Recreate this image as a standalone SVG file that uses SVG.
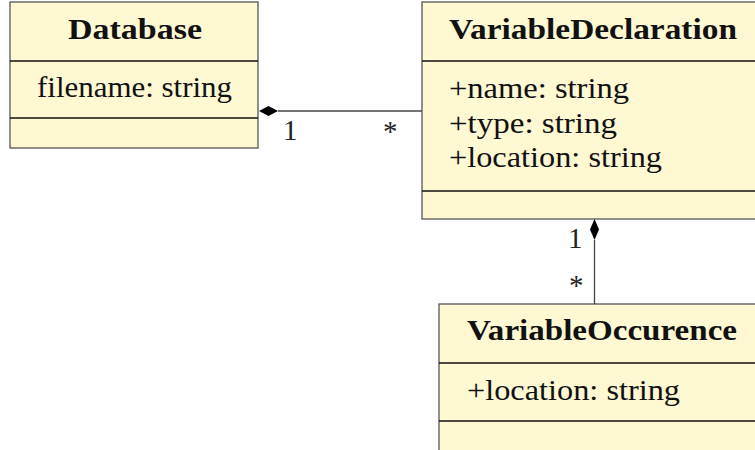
<svg xmlns="http://www.w3.org/2000/svg" width="755" height="450" viewBox="0 0 755 450">
  <defs>
    <style>
      .box { fill: #fef8d3; stroke: #555; stroke-width: 1.3; }
      .div { stroke: #111; stroke-width: 1.3; }
      .title { font-family: "Liberation Serif", "Times New Roman", serif; font-weight: bold; font-size: 30px; fill: #111; }
      .attr { font-family: "Liberation Serif", "Times New Roman", serif; font-size: 30px; fill: #111; }
      .mult { font-family: "Liberation Serif", "Times New Roman", serif; font-size: 29px; fill: #222; }
      .link { stroke: #444; stroke-width: 1.3; fill: none; }
      .diamond { fill: #000; stroke: none; }
    </style>
  </defs>

  <!-- Database class -->
  <g id="database">
    <rect class="box" x="10" y="2" width="248" height="146"/>
    <line class="div" x1="10" y1="61" x2="258" y2="61"/>
    <line class="div" x1="10" y1="118" x2="258" y2="118"/>
    <text class="title" x="135" y="39" text-anchor="middle" textLength="134" lengthAdjust="spacingAndGlyphs">Database</text>
    <text class="attr" x="37" y="97" textLength="195" lengthAdjust="spacingAndGlyphs">filename: string</text>
  </g>

  <!-- VariableDeclaration class -->
  <g id="variable-declaration">
    <rect class="box" x="422" y="2" width="340" height="217"/>
    <line class="div" x1="422" y1="61" x2="762" y2="61"/>
    <line class="div" x1="422" y1="191" x2="762" y2="191"/>
    <text class="title" x="449" y="39" textLength="288" lengthAdjust="spacingAndGlyphs">VariableDeclaration</text>
    <text class="attr" x="449" y="98" textLength="180" lengthAdjust="spacingAndGlyphs">+name: string</text>
    <text class="attr" x="449" y="133" textLength="168" lengthAdjust="spacingAndGlyphs">+type: string</text>
    <text class="attr" x="449" y="167" textLength="213" lengthAdjust="spacingAndGlyphs">+location: string</text>
  </g>

  <!-- VariableOccurence class -->
  <g id="variable-occurence">
    <rect class="box" x="439" y="304" width="330" height="160"/>
    <line class="div" x1="439" y1="363" x2="769" y2="363"/>
    <line class="div" x1="439" y1="421" x2="769" y2="421"/>
    <text class="title" x="467" y="340" textLength="270" lengthAdjust="spacingAndGlyphs">VariableOccurence</text>
    <text class="attr" x="467" y="400" textLength="213" lengthAdjust="spacingAndGlyphs">+location: string</text>
  </g>

  <!-- Composition associations -->
  <g id="connectors">
    <line class="link" x1="278" y1="111" x2="422" y2="111"/>
    <polygon class="diamond" points="259,111 268.5,106 278,111 268.5,116"/>
    <text class="mult" x="283" y="140">1</text>
    <text class="mult" x="383" y="141">*</text>

    <line class="link" x1="594.5" y1="240" x2="594.5" y2="304"/>
    <polygon class="diamond" points="594.5,219 599,229.5 594.5,240 590,229.5"/>
    <text class="mult" x="568" y="248">1</text>
    <text class="mult" x="569" y="295">*</text>
  </g>
</svg>
